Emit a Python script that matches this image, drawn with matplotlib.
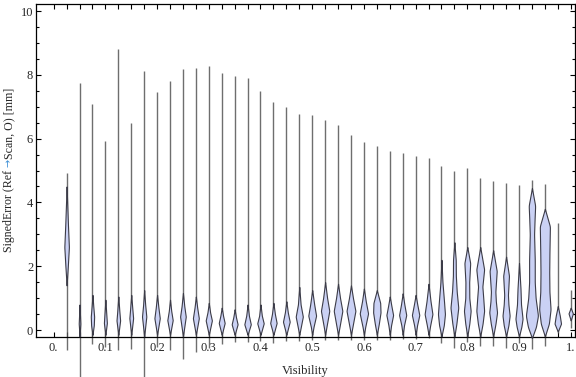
import numpy as np
import matplotlib
matplotlib.use("Agg")
import matplotlib.pyplot as plt
from matplotlib import font_manager

# ---------------- data ----------------
visibility = [0.025, 0.05, 0.075, 0.1, 0.125, 0.15, 0.175, 0.2, 0.225, 0.25,
              0.275, 0.3, 0.325, 0.35, 0.375, 0.4, 0.425, 0.45, 0.475, 0.5,
              0.525, 0.55, 0.575, 0.6, 0.625, 0.65, 0.675, 0.7, 0.725, 0.75,
              0.775, 0.8, 0.825, 0.85, 0.875, 0.9, 0.925, 0.95, 0.975, 1.0]

err_max = [4.92, 7.74, 7.10, 5.93, 8.81, 6.48, 8.12, 7.46, 7.82, 8.18,
           8.20, 8.27, 8.06, 7.96, 7.91, 7.48, 7.16, 6.99, 6.77, 6.74,
           6.57, 6.43, 6.11, 5.89, 5.77, 5.62, 5.55, 5.44, 5.39, 5.14,
           4.99, 5.09, 4.76, 4.68, 4.62, 4.55, 4.69, 4.58, 3.36, 1.25]

err_min = [-0.64, -1.55, -0.43, -0.52, -0.62, -0.60, -1.50, -0.52, -0.62, -0.92,
           -0.68, -0.55, -0.44, -0.37, -0.37, -0.36, -0.40, -0.33, -0.33, -0.32,
           -0.32, -0.32, -0.32, -0.32, -0.30, -0.30, -0.28, -0.28, -0.25, -0.42,
           -0.57, -0.37, -0.49, -0.49, -0.57, -0.42, -0.60, -0.49, -0.10, 0.06]

# density profile knots (error value, relative density) for each violin body
body_y = [
    [1.4, 2.0, 2.6, 3.3, 4.5],
    [-0.2, 0.2, 0.8],
    [-0.15, 0.15, 0.42, 0.75, 1.1],
    [-0.15, 0.22, 0.55, 0.95],
    [-0.15, 0.30, 0.60, 1.05],
    [-0.15, 0.37, 0.70, 1.10],
    [-0.20, 0.42, 0.80, 1.25],
    [-0.15, 0.37, 0.70, 1.10],
    [-0.15, 0.31, 0.60, 0.95],
    [-0.20, 0.42, 0.75, 1.16],
    [-0.15, 0.37, 0.70, 1.05],
    [-0.15, 0.30, 0.55, 0.85],
    [-0.15, 0.22, 0.45, 0.70],
    [-0.15, 0.18, 0.40, 0.65],
    [-0.15, 0.18, 0.45, 0.80],
    [-0.15, 0.21, 0.45, 0.80],
    [-0.15, 0.22, 0.50, 0.85],
    [-0.15, 0.26, 0.55, 0.90],
    [-0.15, 0.42, 0.80, 1.35],
    [-0.15, 0.10, 0.45, 0.80, 1.25],
    [-0.15, 0.10, 0.60, 1.00, 1.50],
    [-0.15, 0.10, 0.60, 1.00, 1.45],
    [-0.15, 0.10, 0.60, 1.00, 1.40],
    [-0.15, 0.10, 0.52, 0.90, 1.30],
    [-0.15, 0.20, 0.55, 0.85, 1.25],
    [-0.15, 0.15, 0.47, 0.75, 1.05],
    [-0.15, 0.15, 0.47, 0.80, 1.15],
    [-0.15, 0.15, 0.47, 0.80, 1.10],
    [-0.15, 0.15, 0.50, 0.90, 1.45],
    [-0.20, 0.15, 0.50, 0.90, 1.50, 2.20],
    [-0.20, 0.20, 0.70, 1.20, 1.70, 2.20, 2.75],
    [-0.20, 0.20, 0.60, 1.00, 1.50, 2.10, 2.60],
    [-0.20, 0.20, 0.60, 1.00, 1.36, 1.90, 2.60],
    [-0.20, 0.20, 0.55, 0.90, 1.20, 1.85, 2.50],
    [-0.20, 0.15, 0.45, 0.80, 1.10, 1.70, 2.30],
    [-0.20, 0.10, 0.35, 0.80, 1.30, 2.10],
    [-0.25, 0.10, 0.45, 1.00, 1.50, 2.20, 3.00, 3.50, 3.90, 4.45],
    [-0.20, 0.20, 0.65, 1.20, 1.80, 2.40, 3.25, 3.80],
    [-0.05, 0.20, 0.45, 0.75],
    [0.30, 0.52, 0.70],
]
body_w = [
    [0.0, 0.18, 0.34, 0.20, 0.0],
    [0.0, 0.12, 0.0],
    [0.0, 0.20, 0.25, 0.12, 0.0],
    [0.0, 0.22, 0.12, 0.0],
    [0.0, 0.27, 0.15, 0.0],
    [0.0, 0.28, 0.15, 0.0],
    [0.0, 0.32, 0.15, 0.0],
    [0.0, 0.40, 0.20, 0.0],
    [0.0, 0.40, 0.18, 0.0],
    [0.0, 0.42, 0.20, 0.0],
    [0.0, 0.44, 0.20, 0.0],
    [0.0, 0.46, 0.20, 0.0],
    [0.0, 0.44, 0.20, 0.0],
    [0.0, 0.44, 0.20, 0.0],
    [0.0, 0.48, 0.20, 0.0],
    [0.0, 0.48, 0.20, 0.0],
    [0.0, 0.48, 0.22, 0.0],
    [0.0, 0.50, 0.22, 0.0],
    [0.0, 0.53, 0.20, 0.0],
    [0.0, 0.20, 0.58, 0.30, 0.0],
    [0.0, 0.20, 0.62, 0.30, 0.0],
    [0.0, 0.22, 0.64, 0.30, 0.0],
    [0.0, 0.22, 0.66, 0.30, 0.0],
    [0.0, 0.20, 0.62, 0.28, 0.0],
    [0.0, 0.30, 0.55, 0.50, 0.0],
    [0.0, 0.20, 0.50, 0.25, 0.0],
    [0.0, 0.20, 0.53, 0.25, 0.0],
    [0.0, 0.22, 0.55, 0.25, 0.0],
    [0.0, 0.25, 0.58, 0.30, 0.0],
    [0.0, 0.35, 0.52, 0.38, 0.15, 0.0],
    [0.0, 0.30, 0.58, 0.35, 0.22, 0.20, 0.0],
    [0.0, 0.30, 0.50, 0.30, 0.28, 0.43, 0.0],
    [0.0, 0.35, 0.58, 0.45, 0.32, 0.58, 0.0],
    [0.0, 0.35, 0.58, 0.40, 0.33, 0.53, 0.0],
    [0.0, 0.35, 0.53, 0.35, 0.28, 0.43, 0.0],
    [0.0, 0.35, 0.53, 0.30, 0.22, 0.0],
    [0.0, 0.60, 0.90, 0.55, 0.42, 0.42, 0.32, 0.40, 0.48, 0.0],
    [0.0, 0.60, 0.85, 0.68, 0.65, 0.68, 0.75, 0.0],
    [0.0, 0.48, 0.30, 0.0],
    [0.0, 0.32, 0.0],
]

xtick_vals = [0.0, 0.1, 0.2, 0.3, 0.4, 0.5, 0.6, 0.7, 0.8, 0.9, 1.0]
xtick_labels = ["0.", "0.1", "0.2", "0.3", "0.4", "0.5", "0.6", "0.7", "0.8", "0.9", "1."]
ytick_vals = [0, 2, 4, 6, 8, 10]

# ---------------- style ----------------
def pick_serif():
    for name in ["Liberation Serif", "Times New Roman", "Nimbus Roman", "DejaVu Serif"]:
        try:
            font_manager.findfont(font_manager.FontProperties(family=name),
                                  fallback_to_default=False)
            return name
        except Exception:
            pass
    return "serif"

MAIN = pick_serif()
SERIF = [MAIN, "DejaVu Serif"]
plt.rcParams["font.family"] = SERIF
FILL = "#cad1f4"
EDGE = "#3c3c48"
STEM = "#555555"
HALF_MAX = 0.0130   # half width (x units) for relative density 1.0
TXT = "#262626"

fig = plt.figure(figsize=(5.76, 3.77), dpi=100)
W, H = 576, 377
ax = fig.add_axes([36 / W, (H - 337) / H, (575 - 36) / W, (337 - 4) / H])
ax.set_xlim(-0.0342, 1.0083)
ax.set_ylim(-0.219, 10.22)

for pos, lo, hi, ky, kw in zip(visibility, err_min, err_max, body_y, body_w):
    ax.plot([pos, pos], [lo, hi], color=STEM, lw=1.0, alpha=0.85,
            solid_capstyle="butt", zorder=2, clip_on=False)
    yy = np.linspace(ky[0], ky[-1], 200)
    ww = np.interp(yy, ky, kw)
    k = np.exp(-0.5 * (np.linspace(-3, 3, 11)) ** 2)
    k /= k.sum()
    wp = np.pad(ww, 5, mode="constant")
    ws = np.convolve(wp, k, mode="same")[5:-5]
    ws[0] = ws[-1] = 0
    hw = ws * HALF_MAX
    ax.fill_betweenx(yy, pos - hw, pos + hw, facecolor=FILL, edgecolor=EDGE,
                     lw=0.8, zorder=3, clip_on=False)

# ticks
ax.set_xticks(xtick_vals)
ax.set_xticklabels(xtick_labels)
ax.set_xticks(visibility, minor=True)
ax.set_yticks(ytick_vals)
ax.set_yticks(np.arange(0, 10.01, 0.5), minor=True)
ax.tick_params(which="both", direction="in", top=True, right=True,
               labelsize=9, labelcolor=TXT, color="black", width=0.8)
ax.tick_params(axis="x", which="both", length=3.6, pad=3.5)
ax.tick_params(axis="y", which="major", length=3.8, pad=2)
ax.tick_params(axis="y", which="minor", length=2.4)
for s in ax.spines.values():
    s.set_linewidth(0.9)
    s.set_color("black")

ax.set_xlabel("Visibility", fontsize=9, color=TXT, labelpad=8)

# y label with coloured arrow
fig.canvas.draw()
renderer = fig.canvas.get_renderer()
YL_SIZE = 8.6
pieces = [("SignedError (Ref ", TXT, SERIF, YL_SIZE),
          ("\u2192", "#3d8fd6", ["DejaVu Sans"], 7.0),
          ("Scan, O) [mm]", TXT, SERIF, YL_SIZE)]
lengths = []
for txt, c, fam, sz in pieces:
    t = fig.text(0, 0, txt, fontsize=sz, family=fam)
    lengths.append(t.get_window_extent(renderer).width)
    t.remove()
total = sum(lengths)
y0 = (H - 170) - total / 2
x_base = 12
for (txt, c, fam, sz), L in zip(pieces, lengths):
    fig.text(x_base / W, y0 / H, txt, fontsize=sz, family=fam, color=c,
             rotation=90, rotation_mode="anchor", ha="left", va="baseline")
    y0 += L

fig.savefig("out.png", dpi=100)
